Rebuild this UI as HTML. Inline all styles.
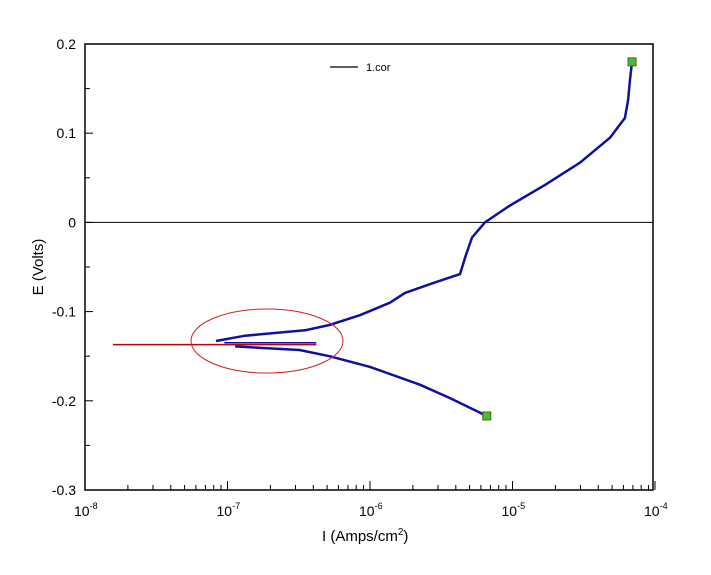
<!DOCTYPE html>
<html><head><meta charset="utf-8"><style>
body{margin:0;background:#fff;}
svg text{font-family:"Liberation Sans",Arial,sans-serif;}
</style></head><body>
<svg id="c" width="711" height="570" viewBox="0 0 711 570">
<rect width="711" height="570" fill="#fff"/>
<g id="g"></g>
</svg>
<script>
const upperI=[8.3e-8,1.33e-7,3.5e-7,5.2e-7,8.5e-7,1.38e-6,1.76e-6,2.77e-6,4.28e-6,4.7e-6,5.2e-6,6.4e-6,9.6e-6,1.69e-5,2.98e-5,4.83e-5,6.15e-5,6.47e-5,6.68e-5,6.9e-5];
const upperE=[-0.133,-0.127,-0.121,-0.115,-0.104,-0.090,-0.079,-0.068,-0.058,-0.037,-0.017,0.0,0.019,0.042,0.067,0.095,0.117,0.137,0.160,0.180];
const lowerI=[1.13e-7,3.2e-7,5.2e-7,1.0e-6,2.24e-6,3.64e-6,6.6e-6];
const lowerE=[-0.139,-0.143,-0.150,-0.162,-0.182,-0.197,-0.217];
const innerI=[9.5e-8,4.2e-7];
const innerE=[-0.135,-0.135];
const redI=[1.57e-8,4.2e-7];
const redE=[-0.137,-0.137];
const yTicks=[0.2,0.1,0,-0.1,-0.2,-0.3];
const yTickLabels=["0.2","0.1","0","-0.1","-0.2","-0.3"];
const xDecades=[-8,-7,-6,-5,-4];
const L=85,R=655,T=44,B=490;
const X=i=>L+(Math.log10(i)+8)/4*(R-L);
const Y=e=>T+(0.2-e)/0.5*(B-T);
const NS="http://www.w3.org/2000/svg";
const g=document.getElementById('g');
function mk(t,a,p){const e=document.createElementNS(NS,t);for(const k in a)e.setAttribute(k,a[k]);(p||g).appendChild(e);return e;}
let e;
e=mk('rect',{x:L,y:T,width:653-L,height:B-T,fill:'none',stroke:'#000','stroke-width':1.5});


e=mk('line',{x1:L,y1:Y(0),x2:653,y2:Y(0),stroke:'#000','stroke-width':1});


yTicks.forEach((v,k)=>{
 e=mk('line',{x1:L,y1:Y(v),x2:L+8,y2:Y(v),stroke:'#000'});
 
 
 if(k<yTicks.length-1){e=mk('line',{x1:L,y1:Y(v-0.05),x2:L+5,y2:Y(v-0.05),stroke:'#000'});
 
 }
 e=mk('text',{x:L-9,y:Y(v)+5,'text-anchor':'end','font-size':14});
 e.textContent=yTickLabels[k];
 
 
});
xDecades.forEach((d,k)=>{
 const x=X(Math.pow(10,d));
 e=mk('line',{x1:x,y1:B,x2:x,y2:B-9,stroke:'#000'});
 
 
 e=mk('text',{x:x-11,y:B+26,'font-size':14});
 e.textContent='10';
 const s=mk('tspan',{dy:-7,'font-size':9},e);s.textContent=String(d);
 
 
 if(k<xDecades.length-1)for(let m=2;m<=9;m++){
  const xm=X(m*Math.pow(10,d));
  e=mk('line',{x1:xm,y1:B,x2:xm,y2:B-5,stroke:'#000'});
  
  
 }
});
e=mk('text',{x:0,y:0,'font-size':15,'text-anchor':'middle',transform:'translate(43,267) rotate(-90)'});
e.textContent='E (Volts)';


e=mk('text',{x:322,y:541,'font-size':15});
e.textContent='I (Amps/cm';
const sp=mk('tspan',{dy:-6,'font-size':10},e);sp.textContent='2';
const sp2=mk('tspan',{dy:6},e);sp2.textContent=')';


function path(I,E){return I.map((v,k)=>(k?'L':'M')+X(v).toFixed(1)+','+Y(E[k]).toFixed(1)).join(' ');}
e=mk('path',{d:path(innerI,innerE),stroke:'#1010a0',fill:'none','stroke-width':1.5});


e=mk('path',{d:path(redI,redE),stroke:'#c00000',fill:'none','stroke-width':1.5});


e=mk('path',{d:path(upperI,upperE),stroke:'#1010a0',fill:'none','stroke-width':2.5,'stroke-linejoin':'round'});


e=mk('path',{d:path(lowerI,lowerE),stroke:'#1010a0',fill:'none','stroke-width':2.5,'stroke-linejoin':'round'});


e=mk('ellipse',{cx:267,cy:341,rx:76,ry:32,fill:'none',stroke:'#d02020','stroke-width':1});


[[upperI[upperI.length-1],upperE[upperE.length-1]],[lowerI[lowerI.length-1],lowerE[lowerE.length-1]]].forEach(p=>{
 e=mk('rect',{x:X(p[0])-4,y:Y(p[1])-4,width:8,height:8,fill:'#40c040',stroke:'#606000','stroke-width':1});
 
 
});
e=mk('line',{x1:330,y1:67,x2:358,y2:67,stroke:'#000','stroke-width':1.2});


e=mk('text',{x:366,y:71,'font-size':11});
e.textContent='1.cor';


</script>
</body></html>
